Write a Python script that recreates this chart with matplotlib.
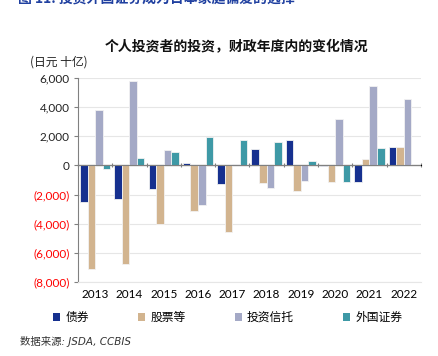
import matplotlib
matplotlib.use("Agg")
import matplotlib.pyplot as plt
import numpy as np
from matplotlib.patches import Patch

plt.rcParams["font.family"] = ["Noto Sans CJK SC", "DejaVu Sans"]

years = ["2013", "2014", "2015", "2016", "2017", "2018", "2019", "2020", "2021", "2022"]
series_names = ["债券", "股票等", "投资信托", "外国证券"]
bonds = [-2480, -2300, -1610, 180, -1260, 1100, 1750, -70, -1130, 1240]
equities = [-7130, -6780, -4020, -3150, -4550, -1200, -1770, -1170, 460, 1240]
trusts = [3770, 5820, 1060, -2740, 70, -1520, -1060, 3200, 5470, 4550]
foreign = [-280, 530, 940, 1980, 1720, 1590, 280, -1130, 1200, 0]
colors = ["#16308f", "#d2b48f", "#a4a9c6", "#3e99a6"]
yticks = [6000, 4000, 2000, 0, -2000, -4000, -6000, -8000]


def fmt(v: int) -> str:
    return f"({abs(v):,})" if v < 0 else f"{v:,}"


fig = plt.figure(figsize=(4.38, 3.56), dpi=100)
ax = fig.add_axes([0.178, 0.208, 0.783, 0.573])

x = np.arange(len(years))
width = 0.22
for i, (vals, col) in enumerate(zip([bonds, equities, trusts, foreign], colors)):
    ax.bar(x + (i - 1.5) * width, vals, width, color=col, edgecolor="#f2f2f2",
           linewidth=0.6, zorder=3)

ax.set_xlim(-0.5, len(years) - 0.5)
ax.set_ylim(-8000, 6000)
ax.set_yticks(yticks)
ax.set_yticklabels([fmt(v) for v in yticks], fontsize=8.5, family=["Lato", "DejaVu Sans"])
for lab, v in zip(ax.get_yticklabels(), yticks):
    lab.set_color("red" if v < 0 else "#222222")
ax.grid(axis="y", color="#e6e6e6", linewidth=0.8, zorder=0)

ax.set_xticks(x)
ax.set_xticklabels(years, fontsize=8.5, family=["Lato", "DejaVu Sans"])
ax.tick_params(axis="x", length=0, pad=5)
ax.tick_params(axis="y", length=3, color="#808080", direction="out", pad=3)

for s in ["top", "right"]:
    ax.spines[s].set_visible(False)
ax.spines["bottom"].set_color("#e6e6e6")
ax.spines["left"].set_color("#808080")
ax.spines["left"].set_linewidth(0.8)

# zero line with small ticks between year groups
zero = ax.secondary_xaxis(8000 / 14000)
zero.set_xticks(np.arange(len(years) + 1) - 0.5)
zero.set_xticklabels([])
zero.tick_params(length=3, color="#808080", direction="inout")
zero.spines["bottom"].set_color("#808080")
zero.spines["bottom"].set_linewidth(0.8)
ax.axhline(0, color="#808080", linewidth=0.8, zorder=4)

fig.text(0.04, 1.003, "图 11: 投资外国证券成为日本家庭偏爱的选择", fontsize=10,
         fontweight="bold", color="#2040a0", va="center", ha="left")
fig.text(0.54, 0.868, "个人投资者的投资，财政年度内的变化情况", fontsize=10,
         fontweight="bold", ha="center", va="center", color="#111111")
fig.text(0.135, 0.826, "(日元 十亿)", fontsize=8.5, ha="center", va="center", color="#222222")

handles = [Patch(facecolor=c, edgecolor="none") for c in colors]
fig.legend(handles, series_names, loc="center", bbox_to_anchor=(0.52, 0.108), ncol=4,
           frameon=False, fontsize=8.5, handlelength=0.6, handleheight=0.6,
           handletextpad=0.4, columnspacing=4.2)

fig.text(0.045, 0.04, "数据来源: JSDA, CCBIS", fontsize=7.5, style="italic",
         family=["DejaVu Sans", "Noto Sans CJK SC"], color="#333333", va="center")

fig.savefig("out.png", dpi=100)
